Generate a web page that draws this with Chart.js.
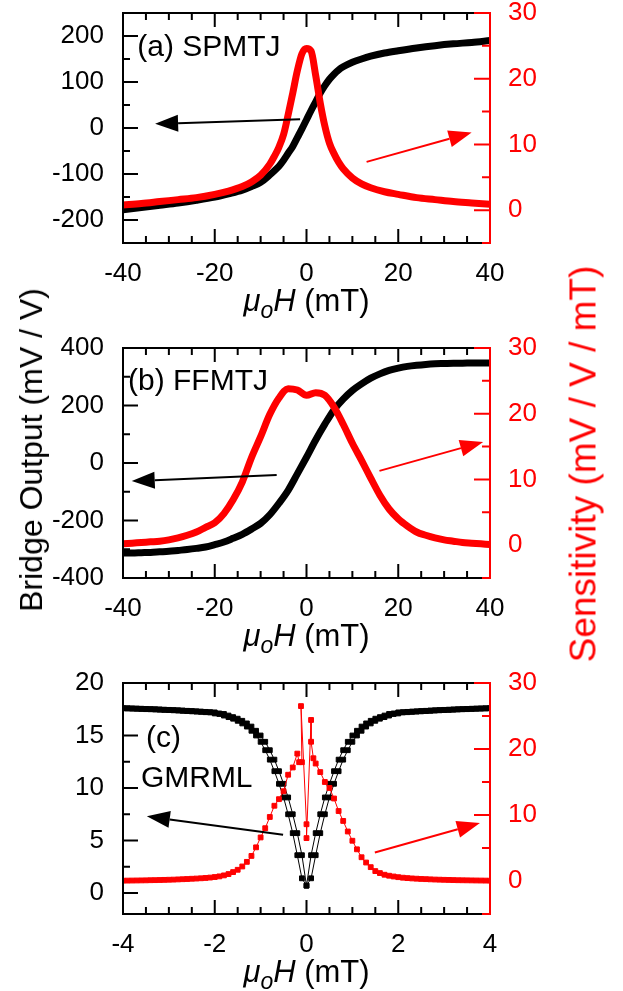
<!DOCTYPE html>
<html lang="en">
<head>
<meta charset="UTF-8" />
<title>Bridge output and sensitivity</title>
<script src="https://cdn.jsdelivr.net/npm/chart.js@4.4.1/dist/chart.umd.min.js"></script>
<style>
  body { margin: 0; background: #fff; }
  #wrap { position: relative; width: 623px; height: 991px; overflow: hidden;
          font-family: "Liberation Sans", Arial, Helvetica, sans-serif; }
  canvas { position: absolute; left: 0; }
  .side { position: absolute; white-space: nowrap; line-height: 1;
          transform: translate(-50%, -50%) rotate(-90deg); }
  #leftTitle { left: 31px; top: 450px; font-size: 32px; color: #000; }
  #rightTitle { left: 583px; top: 464px; font-size: 37px; color: #ff0000; }
</style>
</head>
<body>
<div id="wrap">
  <canvas id="chartA" width="623" height="367" style="top:-27px"></canvas>
  <canvas id="chartB" width="623" height="352" style="top:308px"></canvas>
  <canvas id="chartC" width="623" height="348" style="top:643px"></canvas>
  <div class="side" id="leftTitle">Bridge Output (mV / V)</div>
  <div class="side" id="rightTitle">Sensitivity (mV / V / mT)</div>
</div>
<script>
// (a) SPMTJ, field in mT
const fieldA = [-40,-36,-32,-28,-24,-20,-17,-14,-12,-10,-8,-7,-6,-5,-4,-3,-2,-1,0,1,2,3,4,5,6,7,8,10,12,14,17,20,24,28,32,36,40];
const outputA = [-178,-173,-168,-163,-157,-150,-143,-135,-127,-118,-102,-93,-83,-70,-55,-40,-21,-2,18,38,57,76,92,106,117,126,133,143,150,156,163,168,174,179,183,186,190];
const sensA = [0.8,1.0,1.3,1.6,1.9,2.4,2.9,3.6,4.3,5.3,7.0,8.2,9.6,11.5,14.5,17.8,21.2,23.8,24.6,24.2,20.5,16.3,12.8,10.2,8.6,7.3,6.3,4.9,4.0,3.4,2.8,2.4,1.9,1.6,1.3,1.1,0.9];

// (b) FFMTJ
const fieldB = [-40,-38,-36,-34,-32,-30,-28,-26,-24,-22,-20,-18,-16,-14,-12,-10,-8,-6,-4,-2,0,2,4,6,8,10,12,14,16,18,20,22,24,26,28,30,32,34,36,38,40];
const outputB = [-313,-313,-312,-311,-309,-307,-304,-301,-297,-292,-284,-275,-262,-248,-230,-210,-180,-140,-95,-38,20,80,135,185,222,252,275,295,310,322,330,336,340,343,345,346,347,347,348,348,348];
const sensB = [0.2,0.3,0.4,0.5,0.6,0.8,1.1,1.5,2.0,2.7,3.4,4.8,6.9,9.6,13.3,16.5,19.9,22.4,23.8,23.6,22.8,23.2,22.8,21.0,18.4,15.5,12.9,10.2,7.6,5.5,4.0,2.9,2.0,1.5,1.1,0.8,0.6,0.4,0.3,0.2,0.1];

// (c) GMRML, two sweep branches
const fieldC = [-4.0,-3.9,-3.8,-3.7,-3.6,-3.5,-3.4,-3.3,-3.2,-3.1,-3.0,-2.9,-2.8,-2.7,-2.6,-2.5,-2.4,-2.3,-2.2,-2.1,-2.0,-1.9,-1.8,-1.7,-1.6,-1.5,-1.4,-1.3,-1.2,-1.1,-1.0,-0.9,-0.8,-0.7,-0.6,-0.5,-0.4,-0.3,-0.2,-0.1,0.0,0.1,0.2,0.3,0.4,0.5,0.6,0.7,0.8,0.9,1.0,1.1,1.2,1.3,1.4,1.5,1.6,1.7,1.8,1.9,2.0,2.1,2.2,2.3,2.4,2.5,2.6,2.7,2.8,2.9,3.0,3.1,3.2,3.3,3.4,3.5,3.6,3.7,3.8,3.9,4.0];
const outputUpC = [17.6,17.59,17.58,17.56,17.55,17.53,17.51,17.5,17.48,17.46,17.44,17.42,17.4,17.38,17.35,17.33,17.3,17.28,17.25,17.22,17.2,17.1,17.05,16.9,16.75,16.6,16.4,16.15,15.85,15.45,15.0,14.4,13.6,12.7,11.6,10.4,9.1,7.5,5.7,3.6,0.7,1.4,3.6,5.7,7.5,9.1,10.4,11.6,12.7,13.6,14.4,15.0,15.45,15.85,16.15,16.4,16.6,16.75,16.9,17.05,17.1,17.2,17.22,17.25,17.28,17.3,17.33,17.35,17.38,17.4,17.42,17.44,17.46,17.48,17.5,17.51,17.53,17.55,17.56,17.58,17.59];
const outputDownC = [17.59,17.58,17.56,17.55,17.53,17.51,17.5,17.48,17.46,17.44,17.42,17.4,17.38,17.35,17.33,17.3,17.28,17.25,17.22,17.2,17.1,17.05,16.9,16.75,16.6,16.4,16.15,15.85,15.45,15.0,14.4,13.6,12.7,11.6,10.4,9.1,7.5,5.7,3.6,1.4,0.7,3.6,5.7,7.5,9.1,10.4,11.6,12.7,13.6,14.4,15.0,15.45,15.85,16.15,16.4,16.6,16.75,16.9,17.05,17.1,17.2,17.22,17.25,17.28,17.3,17.33,17.35,17.38,17.4,17.42,17.44,17.46,17.48,17.5,17.51,17.53,17.55,17.56,17.58,17.59,17.6];
const fieldSensC = [-4.0,-3.9,-3.8,-3.7,-3.6,-3.5,-3.4,-3.3,-3.2,-3.1,-3.0,-2.9,-2.8,-2.7,-2.6,-2.5,-2.4,-2.3,-2.2,-2.1,-2.0,-1.9,-1.8,-1.7,-1.6,-1.5,-1.4,-1.3,-1.2,-1.1,-1.0,-0.9,-0.8,-0.7,-0.6,-0.5,-0.4,-0.3,-0.2,-0.16,-0.1,-0.12,0.0,0.0,0.1,0.1,0.15,0.2,0.3,0.4,0.5,0.6,0.7,0.8,0.9,1.0,1.1,1.2,1.3,1.4,1.5,1.6,1.7,1.8,1.9,2.0,2.1,2.2,2.3,2.4,2.5,2.6,2.7,2.8,2.9,3.0,3.1,3.2,3.3,3.4,3.5,3.6,3.7,3.8,3.9,4.0];
const sensC = [0.05,0.06,0.07,0.08,0.09,0.1,0.12,0.13,0.15,0.17,0.19,0.21,0.24,0.27,0.3,0.34,0.37,0.41,0.46,0.52,0.6,0.7,0.85,1.05,1.35,1.7,2.2,2.9,3.8,5.1,6.6,8.0,9.7,11.4,12.4,13.6,16.1,17.2,19.3,18.0,18.0,26.5,8.6,6.5,24.4,21.1,18.6,17.8,16.5,15.0,14.1,12.5,10.6,9.1,7.5,6.1,4.8,3.6,2.8,2.1,1.5,1.2,0.95,0.8,0.68,0.58,0.5,0.44,0.39,0.35,0.31,0.28,0.25,0.22,0.2,0.18,0.16,0.14,0.12,0.11,0.1,0.09,0.08,0.07,0.06,0.05];

// tick labels
const xTicksAB = [-40,-20,0,20,40];
const xTicksC = [-4,-2,0,2,4];
const yTicksA = [-200,-100,0,100,200];
const yTicksB = [-400,-200,0,200,400];
const yTicksC = [0,5,10,15,20];
const sensTicks = [0,10,20,30];

const FONT = '"Liberation Sans", Arial, Helvetica, sans-serif';
const RED = '#ff0000';
Chart.defaults.font.family = FONT;

function pts(xs, ys) { return xs.map((x, i) => ({ x: x, y: ys[i] })); }
function onStep(v, step) { const r = v / step; return Math.abs(r - Math.round(r)) < 1e-6; }

function tickLoop(min, max, step, fn) {
  for (let k = Math.ceil(min / step - 1e-9); k * step <= max + 1e-9; k++) fn(k * step);
}

const panelDeco = {
  id: 'panelDeco',
  afterDatasetsDraw(chart, args, opts) {
    const ctx = chart.ctx, a = chart.chartArea;
    const sx = chart.scales.x, sy = chart.scales.y, sr = chart.scales.y1;
    ctx.save();
    ctx.lineWidth = 2;
    ctx.strokeStyle = '#000';
    ctx.beginPath();
    ctx.moveTo(a.right, a.top); ctx.lineTo(a.left, a.top);
    ctx.lineTo(a.left, a.bottom); ctx.lineTo(a.right, a.bottom);
    tickLoop(sx.min, sx.max, opts.xMinor, v => {
      const px = sx.getPixelForValue(v);
      const len = onStep(v, opts.xMajor) ? 14 : 7;
      ctx.moveTo(px, a.bottom); ctx.lineTo(px, a.bottom - len);
      ctx.moveTo(px, a.top); ctx.lineTo(px, a.top + len);
    });
    tickLoop(sy.min, sy.max, opts.yMinor, v => {
      const py = sy.getPixelForValue(v);
      const len = onStep(v, opts.yMajor) ? 15 : 7;
      ctx.moveTo(a.left, py); ctx.lineTo(a.left + len, py);
    });
    ctx.stroke();

    // sensitivity axis on the right
    ctx.strokeStyle = RED;
    ctx.beginPath();
    ctx.moveTo(a.right, a.top - 1); ctx.lineTo(a.right, a.bottom + 1);
    tickLoop(sr.min, sr.max, 5, v => {
      const py = sr.getPixelForValue(v);
      const len = onStep(v, 10) ? 16 : 8;
      ctx.moveTo(a.right, py); ctx.lineTo(a.right - len, py);
    });
    ctx.stroke();

    // arrows pointing to the axis each curve belongs to
    (opts.arrows || []).forEach(ar => {
      const ys = chart.scales[ar.axis];
      const x0 = sx.getPixelForValue(ar.from[0]), y0 = ys.getPixelForValue(ar.from[1]);
      const x1 = sx.getPixelForValue(ar.to[0]), y1 = ys.getPixelForValue(ar.to[1]);
      const ang = Math.atan2(y1 - y0, x1 - x0);
      const hl = 23, hw = 8.5;
      const bx = x1 - hl * Math.cos(ang), by = y1 - hl * Math.sin(ang);
      ctx.strokeStyle = ar.color; ctx.fillStyle = ar.color; ctx.lineWidth = 2;
      ctx.beginPath(); ctx.moveTo(x0, y0); ctx.lineTo(bx, by); ctx.stroke();
      ctx.beginPath();
      ctx.moveTo(x1, y1);
      ctx.lineTo(bx + hw * Math.sin(ang), by - hw * Math.cos(ang));
      ctx.lineTo(bx - hw * Math.sin(ang), by + hw * Math.cos(ang));
      ctx.closePath(); ctx.fill();
    });

    // panel names
    ctx.fillStyle = '#000';
    ctx.textBaseline = 'alphabetic';
    ctx.textAlign = 'left';
    ctx.font = '30px ' + FONT;
    (opts.labels || []).forEach(lb => {
      ctx.fillText(lb.text, sx.getPixelForValue(lb.x), sy.getPixelForValue(lb.y));
    });

    // x axis title: mu_o H (mT)
    const parts = [
      { t: '\u03bc', f: 'italic 31px ' + FONT, dy: 0 },
      { t: 'o', f: 'italic 23px ' + FONT, dy: 7 },
      { t: 'H', f: 'italic 31px ' + FONT, dy: 0 },
      { t: ' (mT)', f: '31px ' + FONT, dy: 0 }
    ];
    let w = 0;
    parts.forEach(p => { ctx.font = p.f; p.w = ctx.measureText(p.t).width; w += p.w; });
    let cx = (a.left + a.right) / 2 - w / 2;
    const base = a.bottom + opts.titleOffset;
    parts.forEach(p => { ctx.font = p.f; ctx.fillText(p.t, cx, base + p.dy); cx += p.w; });
    ctx.restore();
  }
};

function makePanel(id, cfg) {
  const tickFont = { size: 26, family: FONT };
  return new Chart(document.getElementById(id), {
    type: 'line',
    data: { datasets: cfg.datasets },
    options: {
      responsive: false,
      animation: false,
      events: [],
      layout: { padding: { top: 40, left: 0, right: 0, bottom: 0 } },
      plugins: { legend: { display: false }, tooltip: { enabled: false }, panelDeco: cfg.deco },
      scales: {
        x: {
          type: 'linear', min: cfg.xMin, max: cfg.xMax,
          afterBuildTicks: s => { s.ticks = cfg.xTicks.map(v => ({ value: v })); },
          afterFit: s => { s.height = cfg.xHeight; },
          grid: { display: false, drawTicks: false }, border: { display: false },
          ticks: { color: '#000', font: tickFont, padding: 15, maxRotation: 0, autoSkip: false, callback: v => String(v) }
        },
        y: {
          position: 'left', min: cfg.yMin, max: cfg.yMax,
          afterBuildTicks: s => { s.ticks = cfg.yTicks.map(v => ({ value: v })); },
          afterFit: s => { s.width = 123; },
          grid: { display: false, drawTicks: false }, border: { display: false },
          ticks: { color: '#000', font: tickFont, padding: 19, autoSkip: false, callback: v => String(v) }
        },
        y1: {
          position: 'right', min: -5, max: 30,
          afterBuildTicks: s => { s.ticks = sensTicks.map(v => ({ value: v })); },
          afterFit: s => { s.width = 133; },
          grid: { display: false, drawTicks: false }, border: { display: false },
          ticks: { color: RED, font: tickFont, padding: 18, autoSkip: false, callback: v => String(v) }
        }
      }
    },
    plugins: [panelDeco]
  });
}

function thickLine(data, color, axis, order) {
  return { data: data, yAxisID: axis, borderColor: color, borderWidth: 7, pointRadius: 0,
           cubicInterpolationMode: 'monotone', fill: false, order: order };
}
function markerLine(data, color, axis, order) {
  return { data: data, yAxisID: axis, borderColor: color, backgroundColor: color, borderWidth: 1,
           pointStyle: 'rect', pointRadius: 3.4, pointBorderWidth: 1, pointBorderColor: color,
           pointBackgroundColor: color, tension: 0, fill: false, order: order };
}

makePanel('chartA', {
  xHeight: 97, xMin: -40, xMax: 40, yMin: -250, yMax: 250,
  xTicks: xTicksAB, yTicks: yTicksA,
  datasets: [
    thickLine(pts(fieldA, sensA), RED, 'y1', 0),
    thickLine(pts(fieldA, outputA), '#000', 'y', 1)
  ],
  deco: {
    xMinor: 5, xMajor: 20, yMinor: 50, yMajor: 100, titleOffset: 68,
    arrows: [
      { axis: 'y', from: [-1.4, 19], to: [-33, 9], color: '#000' },
      { axis: 'y1', from: [13.1, 7.35], to: [36.0, 11.8], color: RED }
    ],
    labels: [{ text: '(a) SPMTJ', x: -36.9, y: 157 }]
  }
});

makePanel('chartB', {
  xHeight: 82, xMin: -40, xMax: 40, yMin: -400, yMax: 400,
  xTicks: xTicksAB, yTicks: yTicksB,
  datasets: [
    thickLine(pts(fieldB, sensB), RED, 'y1', 0),
    thickLine(pts(fieldB, outputB), '#000', 'y', 1)
  ],
  deco: {
    xMinor: 5, xMajor: 20, yMinor: 100, yMajor: 200, titleOffset: 68,
    arrows: [
      { axis: 'y', from: [-6.5, -42], to: [-38.1, -63], color: '#000' },
      { axis: 'y1', from: [15.9, 11.3], to: [38.5, 15.7], color: RED }
    ],
    labels: [{ text: '(b) FFMTJ', x: -38.9, y: 254 }]
  }
});

makePanel('chartC', {
  xHeight: 77, xMin: -4, xMax: 4, yMin: -2, yMax: 20,
  xTicks: xTicksC, yTicks: yTicksC,
  datasets: [
    markerLine(pts(fieldSensC, sensC), RED, 'y1', 0),
    markerLine(pts(fieldC, outputUpC), '#000', 'y', 1),
    markerLine(pts(fieldC, outputDownC), '#000', 'y', 2)
  ],
  deco: {
    xMinor: 0.5, xMajor: 2, yMinor: 2.5, yMajor: 5, titleOffset: 68,
    arrows: [
      { axis: 'y', from: [-0.51, 5.55], to: [-3.48, 7.3], color: '#000' },
      { axis: 'y1', from: [1.49, 4.33], to: [3.78, 8.77], color: RED }
    ],
    labels: [
      { text: '(c)', x: -3.5, y: 13.9 },
      { text: 'GMRML', x: -3.61, y: 10.1 }
    ]
  }
});
</script>
</body>
</html>
